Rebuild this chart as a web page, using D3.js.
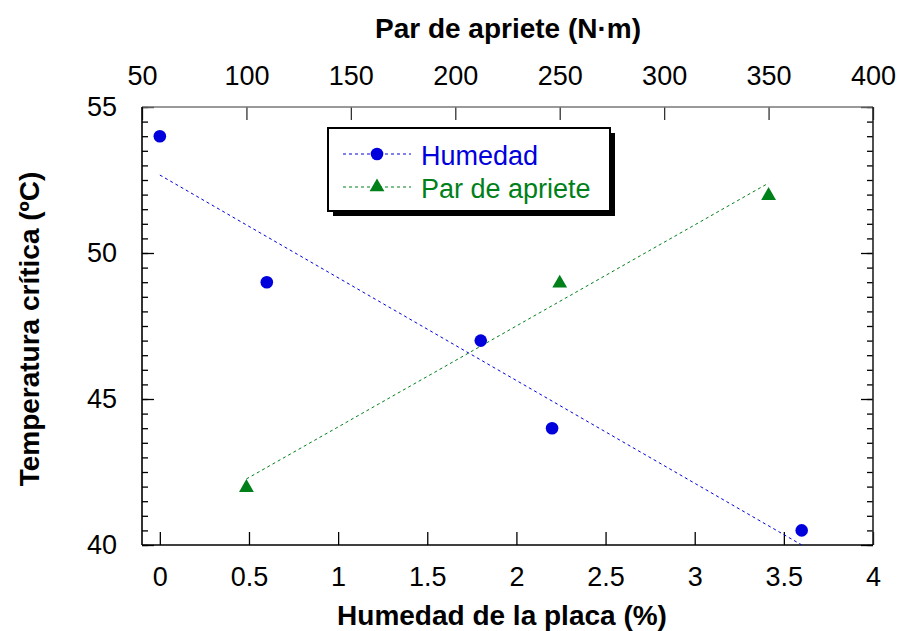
<!DOCTYPE html>
<html>
<head>
<meta charset="utf-8">
<script src="https://cdn.jsdelivr.net/npm/d3@7"></script>
<style>
  html, body { margin: 0; padding: 0; background: #fff; }
  svg { display: block; }
  text { font-family: "Liberation Sans", Arial, Helvetica, sans-serif; }
</style>
</head>
<body>
<svg id="chart" width="899" height="631"></svg>
<script>
// Moisture series (bottom axis) vs. critical temperature
const humedadX = [0, 0.6, 1.8, 2.2, 3.6];
const humedadY = [54, 49, 47, 44, 40.5];

// Tightening torque series (top axis) vs. critical temperature
const parX = [100, 250, 350];
const parY = [42, 49, 52];

// Tick values
const bottomTicks = [0, 0.5, 1, 1.5, 2, 2.5, 3, 3.5, 4];
const topTicks = [50, 100, 150, 200, 250, 300, 350, 400];
const leftTicks = [40, 45, 50, 55];
const leftMinor = d3.range(40, 55.001, 0.5);

const labels = {
  bottom: "Humedad de la placa (%)",
  top: "Par de apriete (N\u00B7m)",
  left: "Temperatura cr\u00EDtica (\u00BAC)",
  s1: "Humedad",
  s2: "Par de apriete"
};

const BLUE = "#0000dd";
const GREEN = "#008019";

const svg = d3.select("#chart");
const L = 142, R = 873, T = 107, B = 545;

const x = d3.scaleLinear().domain([-0.1, 4]).range([L, R]);
const xTop = d3.scaleLinear().domain([50, 400]).range([L, R]);
const y = d3.scaleLinear().domain([40, 55]).range([B, T]);

// least-squares fit drawn over the span of each series
function fit(xs, ys) {
  const mx = d3.mean(xs), my = d3.mean(ys);
  const sxy = d3.sum(xs, (v, i) => (v - mx) * (ys[i] - my));
  const sxx = d3.sum(xs, v => (v - mx) * (v - mx));
  const b = sxy / sxx, a = my - b * mx;
  const [x0, x1] = d3.extent(xs);
  return [[x0, a + b * x0], [x1, a + b * x1]];
}

const fontTick = 27;

// bottom axis
const gB = svg.append("g").attr("transform", `translate(0,${B})`)
  .call(d3.axisBottom(x).tickValues(bottomTicks).tickSize(-13).tickPadding(22).tickFormat(d => String(d)));
// top axis
const gT = svg.append("g").attr("transform", `translate(0,${T})`)
  .call(d3.axisTop(xTop).tickValues(topTicks).tickSize(-13).tickPadding(22).tickFormat(d => String(d)));
// left axis (major + minor)
const gL = svg.append("g").attr("transform", `translate(${L},0)`)
  .call(d3.axisLeft(y).tickValues(leftTicks).tickSize(-12).tickPadding(25).tickFormat(d => String(d)));
const gLm = svg.append("g").attr("transform", `translate(${L},0)`)
  .call(d3.axisLeft(y).tickValues(leftMinor).tickSize(-6).tickFormat(""));
// right axis (ticks only)
const gR = svg.append("g").attr("transform", `translate(${R},0)`)
  .call(d3.axisRight(y).tickValues(leftTicks).tickSize(-12).tickFormat(""));
const gRm = svg.append("g").attr("transform", `translate(${R},0)`)
  .call(d3.axisRight(y).tickValues(leftMinor).tickSize(-6).tickFormat(""));

[gB, gT, gL, gLm, gR, gRm].forEach(g => {
  g.select(".domain").remove();
  g.selectAll(".tick line").attr("stroke", "#000").attr("stroke-width", 1.3);
  g.selectAll(".tick text").attr("font-size", fontTick).attr("fill", "#000")
    .attr("font-family", "'Liberation Sans', Arial, Helvetica, sans-serif");
});
gT.selectAll(".tick line").attr("stroke", "#333");

// plot frame
svg.append("line").attr("x1", L).attr("x2", R).attr("y1", T).attr("y2", T)
  .attr("stroke", "#777").attr("stroke-width", 1.6);
svg.append("line").attr("x1", R).attr("x2", R).attr("y1", T).attr("y2", B)
  .attr("stroke", "#222").attr("stroke-width", 1.6);
svg.append("line").attr("x1", L).attr("x2", L).attr("y1", T).attr("y2", B)
  .attr("stroke", "#000").attr("stroke-width", 1.6);
svg.append("line").attr("x1", L).attr("x2", R).attr("y1", B).attr("y2", B)
  .attr("stroke", "#000").attr("stroke-width", 1.6);

// trend lines
const line1 = fit(humedadX, humedadY);
svg.append("line")
  .attr("x1", x(line1[0][0])).attr("y1", y(line1[0][1]))
  .attr("x2", x(line1[1][0])).attr("y2", y(line1[1][1]))
  .attr("stroke", BLUE).attr("stroke-width", 1).attr("stroke-dasharray", "3,3");
const line2 = fit(parX, parY);
svg.append("line")
  .attr("x1", xTop(line2[0][0])).attr("y1", y(line2[0][1]))
  .attr("x2", xTop(line2[1][0])).attr("y2", y(line2[1][1]))
  .attr("stroke", GREEN).attr("stroke-width", 1).attr("stroke-dasharray", "3,3");

// markers
const tri = d3.symbol().type(d3.symbolTriangle).size(95);
svg.append("g").selectAll("circle").data(humedadX).join("circle")
  .attr("cx", d => x(d)).attr("cy", (d, i) => y(humedadY[i])).attr("r", 6.3)
  .attr("fill", BLUE);
svg.append("g").selectAll("path").data(parX).join("path")
  .attr("d", tri)
  .attr("transform", (d, i) => `translate(${xTop(d)},${y(parY[i]) + 1})`)
  .attr("fill", GREEN);

// axis titles
svg.append("text").attr("x", 502).attr("y", 625).attr("text-anchor", "middle")
  .attr("font-size", 28).attr("font-weight", "bold").text(labels.bottom);
svg.append("text").attr("x", 508).attr("y", 38).attr("text-anchor", "middle")
  .attr("font-size", 28).attr("font-weight", "bold").text(labels.top);
svg.append("text").attr("transform", "translate(39,329) rotate(-90)").attr("text-anchor", "middle")
  .attr("font-size", 28).attr("font-weight", "bold").text(labels.left);

// legend
const lg = svg.append("g");
lg.append("rect").attr("x", 333).attr("y", 133).attr("width", 282).attr("height", 83).attr("fill", "#000");
lg.append("rect").attr("x", 328).attr("y", 128).attr("width", 282).attr("height", 83)
  .attr("fill", "#fff").attr("stroke", "#000").attr("stroke-width", 2);
lg.append("line").attr("x1", 343).attr("x2", 411).attr("y1", 154).attr("y2", 154)
  .attr("stroke", BLUE).attr("stroke-dasharray", "3,3");
lg.append("circle").attr("cx", 377).attr("cy", 154).attr("r", 6.3).attr("fill", BLUE);
lg.append("text").attr("x", 421).attr("y", 165).attr("font-size", 27).attr("fill", BLUE).text(labels.s1);
lg.append("line").attr("x1", 343).attr("x2", 411).attr("y1", 187).attr("y2", 187)
  .attr("stroke", GREEN).attr("stroke-dasharray", "3,3");
lg.append("path").attr("d", tri).attr("transform", "translate(377,187)").attr("fill", GREEN);
lg.append("text").attr("x", 421).attr("y", 198).attr("font-size", 27).attr("fill", GREEN).text(labels.s2);
</script>
</body>
</html>
